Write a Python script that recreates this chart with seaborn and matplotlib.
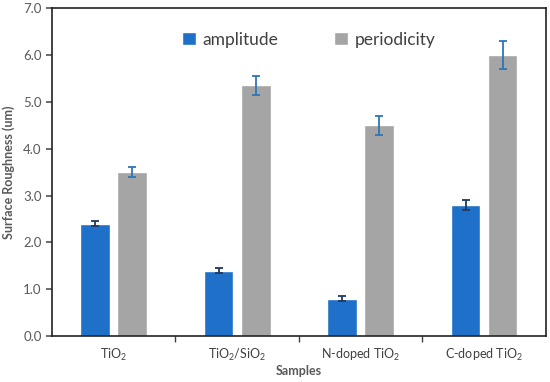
import pandas as pd
import numpy as np
import matplotlib
matplotlib.use("Agg")
import matplotlib.pyplot as plt
import seaborn as sns

# Data
samples = ["TiO$_2$", "TiO$_2$/SiO$_2$", "N-doped TiO$_2$", "C-doped TiO$_2$"]
amplitude = [2.4, 1.4, 0.8, 2.8]
amplitude_err = [0.05, 0.05, 0.05, 0.1]
periodicity = [3.5, 5.35, 4.5, 6.0]
periodicity_err = [0.1, 0.2, 0.2, 0.3]

sns.set_theme(style="white")
plt.rcParams['font.family'] = ['Lato', 'DejaVu Sans']
plt.rcParams['mathtext.default'] = 'regular'

df = pd.DataFrame({
    "Samples": samples * 2,
    "value": amplitude + periodicity,
    "series": ["amplitude"] * 4 + ["periodicity"] * 4,
})

fig = plt.figure(figsize=(5.5, 3.82), dpi=100)
ax = fig.add_axes([0.0945, 0.12, 0.898, 0.859])

sns.barplot(data=df, x="Samples", y="value", hue="series",
            palette=["#1F70C8", "#A5A5A5"], width=0.6, gap=0.2,
            errorbar=None, ax=ax, saturation=1)

# error bars on top of each bar
errs = {"amplitude": (amplitude, amplitude_err, "#1F3864"),
        "periodicity": (periodicity, periodicity_err, "#2E75B6")}
for cont, name in zip(ax.containers, ["amplitude", "periodicity"]):
    vals, e, col = errs[name]
    xs = [p.get_x() + p.get_width() / 2 for p in cont.patches]
    ax.errorbar(xs, vals, yerr=e, fmt="none", ecolor=col, elinewidth=1.3,
                capsize=3, capthick=1.3)

ax.set_ylim(0, 7)
ax.set_xlim(-0.5, 3.5)
ax.set_yticks(np.arange(0, 7.5, 1.0))
ax.set_yticklabels([f"{v:.1f}" for v in np.arange(0, 7.5, 1.0)])
ax.set_xticks([0.5, 1.5, 2.5], minor=True)
ax.tick_params(axis="x", which="major", length=0, labelsize=9, colors="#404040", pad=8)
ax.tick_params(axis="x", which="minor", length=4, direction="out", color="#404040", bottom=True)
ax.tick_params(axis="y", length=4, direction="out", left=True, labelsize=9.5, colors="#595959")

for s in ax.spines.values():
    s.set_color("#222222")
    s.set_linewidth(1.2)

ax.set_xlabel("Samples", fontsize=9, fontweight="bold", color="#595959", labelpad=1)
ax.set_ylabel("Surface Roughness (um)", fontsize=9, fontweight="bold", color="#595959",
              labelpad=6)

ax.legend(loc="upper center", bbox_to_anchor=(0.52, 0.975), ncol=2, frameon=False,
          fontsize=12.5, handlelength=0.8, handleheight=0.8, columnspacing=3.2,
          handletextpad=0.4, labelcolor="#404040")

fig.savefig("out.png", dpi=100)
